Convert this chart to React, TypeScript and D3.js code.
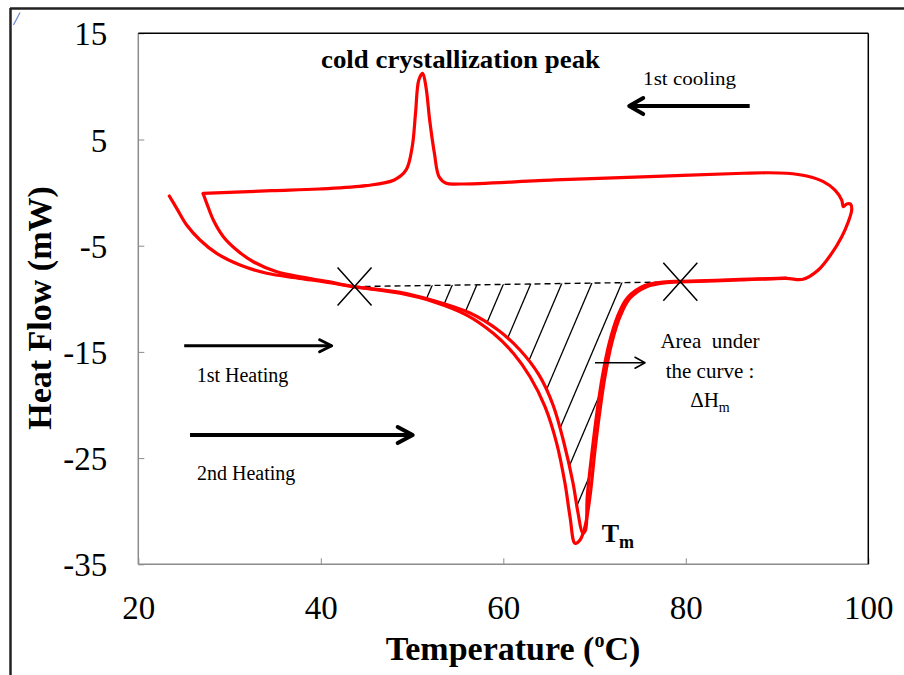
import { useEffect, useRef } from "react";
import * as d3 from "d3";

// 1st heating, then the 1st cooling back to the left (one continuous trace)
const run1Temp = [
  23.4, 24.21, 25.3, 26.76, 28.59, 31.15, 34.07, 37.72, 41.37, 43.53, 48.68, 52.33, 55.99, 58.9,
  61.1, 62.93, 64.57, 65.85, 66.76, 67.31, 67.86, 68.41, 68.95, 69.5, 70.05, 70.6, 71.14, 71.88,
  72.79, 73.88, 75.72, 77.91, 79.36, 85.94, 90.98, 92.84, 94.52, 95.99, 97.09, 97.81, 98.18,
  98.07, 97.63, 97.26, 97.09, 96.35, 95.07, 93.25, 91.06, 88.87, 86.32, 75.97, 65.63, 55.29,
  53.74, 52.96, 52.45, 51.93, 51.52, 51.16, 50.74, 50.38, 50.02, 49.35, 48.05, 44.95, 39.78,
  34.61, 27.1,
];
const run1Flow = [
  -0.32, -1.48, -3.05, -4.46, -5.72, -6.82, -7.6, -8.07, -8.54, -8.86, -9.48, -10.27, -11.53,
  -13.25, -15.13, -17.34, -20.16, -23.61, -27.37, -30.52, -33.02, -32.71, -31.46, -28.63, -24.24,
  -20.47, -17.34, -14.19, -11.69, -9.95, -8.86, -8.48, -8.42, -8.23, -8.07, -8.16, -7.29, -5.72,
  -4.15, -2.74, -1.64, -1.1, -1.07, -1.33, -0.7, 0.24, 1.03, 1.56, 1.82, 1.87, 1.82, 1.5, 1.19,
  0.81, 0.88, 1.5, 3.7, 6.84, 9.97, 11.23, 10.6, 7.47, 4.32, 2.13, 1.19, 0.65, 0.34, 0.18, -0.07,
];

// 2nd heating
const run2Temp = [
  27.12, 27.5, 28.22, 29.32, 30.78, 32.6, 35.17, 38.08, 41.37, 43.53, 48.68, 52.33, 56.35, 59.42,
  61.83, 63.91, 65.45, 66.65, 67.64, 68.19, 68.7, 69.01, 69.2, 69.75, 70.3, 70.85, 71.6, 72.5,
  73.6, 75.5, 77.8, 79.4, 86.0, 91.0,
];
const run2Flow = [
  -0.13, -1.01, -2.58, -4.15, -5.4, -6.51, -7.45, -7.98, -8.48, -8.84, -9.39, -10.16, -11.34,
  -12.94, -14.82, -17.17, -20.0, -23.58, -27.35, -30.17, -32.05, -31.77, -28.63, -24.24, -20.47,
  -17.34, -14.19, -11.69, -9.9, -8.75, -8.4, -8.36, -8.18, -8.05,
];

const xTicks = [20, 40, 60, 80, 100];
const yTicks = [15, 5, -5, -15, -25, -35];

// onset and end of melting (the X marks), joined by the dashed baseline
const markTemp = [43.7, 79.4];
const markFlow = [-8.85, -8.4];

// where each hatch line meets the baseline
const hatchTemp = [52.2, 54.4, 57.1, 60.0, 63.0, 66.4, 69.7, 73.0, 75.8, 78.5];

// arrows: start / end in data units
const arrowFromTemp = [87.0, 25.03, 25.67, 70.05];
const arrowFromFlow = [8.15, -14.42, -22.83, -16.02];
const arrowToTemp = [73.8, 41.19, 50.07, 75.53];
const arrowToFlow = [8.15, -14.42, -22.83, -16.02];

export default function App() {
  const ref = useRef<SVGSVGElement>(null);

  useEffect(() => {
    const width = 904;
    const height = 675;
    const plot = { left: 138.3, right: 868.3, top: 33.3, bottom: 564.3 };
    const serif = "'Liberation Serif', 'Times New Roman', serif";

    const svg = d3.select(ref.current);
    svg.selectAll("*").remove();
    svg.attr("width", width).attr("height", height);

    const x = d3.scaleLinear().domain([20, 100]).range([plot.left, plot.right]);
    const y = d3.scaleLinear().domain([-35, 15]).range([plot.bottom, plot.top]);

    // outer slide frame
    svg.append("line").attr("x1", 10).attr("x2", 904).attr("y1", 8.5).attr("y2", 8.5)
      .attr("stroke", "#222").attr("stroke-width", 2.5);
    svg.append("line").attr("x1", 10.5).attr("x2", 10.5).attr("y1", 8).attr("y2", 675)
      .attr("stroke", "#222").attr("stroke-width", 2.5);
    svg.append("line").attr("x1", 13.5).attr("y1", 25).attr("x2", 20).attr("y2", 12.5)
      .attr("stroke", "#6d8fd6").attr("stroke-width", 1.3);

    // axes (ticks point inwards, plain hyphen for negatives)
    const fmt = (d: d3.NumberValue) => String(d);
    const yAxis = d3.axisLeft(y).tickValues(yTicks).tickFormat(fmt)
      .tickSizeInner(-6).tickSizeOuter(0).tickPadding(31);
    const xAxis = d3.axisBottom(x).tickValues(xTicks).tickFormat(fmt)
      .tickSizeInner(-6).tickSizeOuter(0).tickPadding(31);

    const gy = svg.append("g").attr("transform", `translate(${plot.left},0)`).call(yAxis);
    const gx = svg.append("g").attr("transform", `translate(0,${plot.bottom})`).call(xAxis);
    [gx, gy].forEach((g) => {
      g.attr("font-family", serif).attr("font-size", 33);
      g.select(".domain").remove();
      g.selectAll(".tick line").attr("stroke", "#8c8c8c");
      g.selectAll(".tick text")
        .attr("fill", "#000")
        .style("font-family", serif)
        .style("font-size", "33px");
    });
    gy.selectAll(".tick text").attr("dy", "0.35em");

    // plot frame: grey left/bottom, black top/right
    svg.append("line").attr("x1", plot.left).attr("x2", plot.left).attr("y1", plot.top).attr("y2", plot.bottom)
      .attr("stroke", "#8c8c8c").attr("stroke-width", 1.5);
    svg.append("line").attr("x1", plot.left).attr("x2", plot.right).attr("y1", plot.bottom).attr("y2", plot.bottom)
      .attr("stroke", "#8c8c8c").attr("stroke-width", 1.5);
    svg.append("line").attr("x1", plot.left).attr("x2", plot.right).attr("y1", plot.top).attr("y2", plot.top)
      .attr("stroke", "#000").attr("stroke-width", 1.5);
    svg.append("line").attr("x1", plot.right).attr("x2", plot.right).attr("y1", plot.top).attr("y2", plot.bottom)
      .attr("stroke", "#000").attr("stroke-width", 1.5);

    const run1 = run1Temp.map((t, i) => [t, run1Flow[i]] as [number, number]);
    const run2 = run2Temp.map((t, i) => [t, run2Flow[i]] as [number, number]);

    const line = d3
      .line<[number, number]>()
      .x((d) => x(d[0]))
      .y((d) => y(d[1]))
      .curve(d3.curveCatmullRom.alpha(0.5));

    const baseline = d3.scaleLinear().domain(markTemp).range(markFlow);

    // hatched melting area, clipped between the 2nd heating curve and the baseline
    const cutT = 73.6;
    const edge = run2.filter((d) => d[0] >= 43.5 && d[0] <= cutT);
    const clipD = `${line(edge)}L${x(cutT)},${y(baseline(cutT))}Z`;
    svg.append("clipPath").attr("id", "melt-area").append("path").attr("d", clipD);

    const slope = 0.495; // temperature shift per mW along a hatch line
    svg.append("g")
      .attr("clip-path", "url(#melt-area)")
      .selectAll("line")
      .data(hatchTemp)
      .join("line")
      .attr("x1", (t) => x(t + slope))
      .attr("y1", (t) => y(baseline(t) + 1))
      .attr("x2", (t) => x(t - slope * 32))
      .attr("y2", (t) => y(baseline(t) - 32))
      .attr("stroke", "#000")
      .attr("stroke-width", 1.3);

    svg.append("line")
      .attr("x1", x(markTemp[0])).attr("y1", y(markFlow[0]))
      .attr("x2", x(markTemp[1])).attr("y2", y(markFlow[1]))
      .attr("stroke", "#000").attr("stroke-width", 1.4).attr("stroke-dasharray", "6,4");

    // red DSC traces
    svg.selectAll("path.trace")
      .data([run1, run2])
      .join("path")
      .attr("class", "trace")
      .attr("d", (d) => line(d))
      .attr("fill", "none")
      .attr("stroke", "#ff0000")
      .attr("stroke-width", 3.2)
      .attr("stroke-linejoin", "round")
      .attr("stroke-linecap", "round");

    // X marks
    const marks = markTemp.map((t, i) => [x(t), y(markFlow[i])]);
    svg.selectAll("path.mark")
      .data(marks)
      .join("path")
      .attr("class", "mark")
      .attr("d", ([cx, cy]) => `M${cx - 17},${cy - 19}L${cx + 17},${cy + 19}M${cx - 17},${cy + 19}L${cx + 17},${cy - 19}`)
      .attr("stroke", "#000")
      .attr("stroke-width", 1.5);

    // arrows
    const arrowWidth = [4, 3, 4, 1.5];
    const headBack = [14, 12, 15, 10];
    const headHalf = [8, 6, 8, 5.5];
    arrowFromTemp.forEach((t, i) => {
      const x1 = x(t), y1 = y(arrowFromFlow[i]);
      const x2 = x(arrowToTemp[i]), y2 = y(arrowToFlow[i]);
      const dir = Math.sign(x2 - x1);
      svg.append("line").attr("x1", x1).attr("y1", y1).attr("x2", x2).attr("y2", y2)
        .attr("stroke", "#000").attr("stroke-width", arrowWidth[i]);
      svg.append("path")
        .attr("d", `M${x2 - dir * headBack[i]},${y2 - headHalf[i]}L${x2},${y2}L${x2 - dir * headBack[i]},${y2 + headHalf[i]}`)
        .attr("fill", "none").attr("stroke", "#000").attr("stroke-width", arrowWidth[i])
        .attr("stroke-linecap", "round").attr("stroke-linejoin", "round");
    });

    const text = (tx: number, ty: number, s: string, size: number, weight = "normal", anchor = "start") =>
      svg.append("text")
        .attr("x", tx).attr("y", ty)
        .attr("text-anchor", anchor)
        .style("font-family", serif)
        .style("font-size", `${size}px`)
        .style("font-weight", weight)
        .style("white-space", "pre")
        .text(s);

    text(x(55.31), y(11.73), "cold crystallization peak", 26, "bold", "middle")
      .attr("textLength", 279).attr("lengthAdjust", "spacingAndGlyphs");
    text(x(80.42), y(10.13), "1st cooling", 19, "normal", "middle")
      .attr("textLength", 93).attr("lengthAdjust", "spacingAndGlyphs");
    text(x(26.4), y(-17.81), "1st Heating", 20);
    text(x(26.43), y(-27.06), "2nd Heating", 20);
    text(x(82.65), y(-14.66), "Area  under", 21, "normal", "middle");
    text(x(82.65), y(-17.49), "the curve :", 21, "normal", "middle");
    const dh = text(x(82.65), y(-20.19), "ΔH", 21, "normal", "middle");
    dh.append("tspan").attr("dy", 5).style("font-size", "14px").text("m");

    const tm = text(x(70.78), y(-32.87), "T", 26, "bold");
    tm.append("tspan").attr("dy", 6).style("font-size", "18px").text("m");

    // axis titles
    const xt = text(513, 660, "Temperature (", 34, "bold", "middle");
    xt.append("tspan").attr("dy", -13).style("font-size", "20px").text("o");
    xt.append("tspan").attr("dy", 13).text("C)");

    svg.append("text")
      .attr("transform", "translate(51,308) rotate(-90)")
      .attr("text-anchor", "middle")
      .style("font-family", serif)
      .style("font-size", "34px")
      .style("font-weight", "bold")
      .text("Heat Flow (mW)");
  }, []);

  return <svg ref={ref} style={{ position: "absolute", left: 0, top: 0, background: "#fff" }}></svg>;
}
